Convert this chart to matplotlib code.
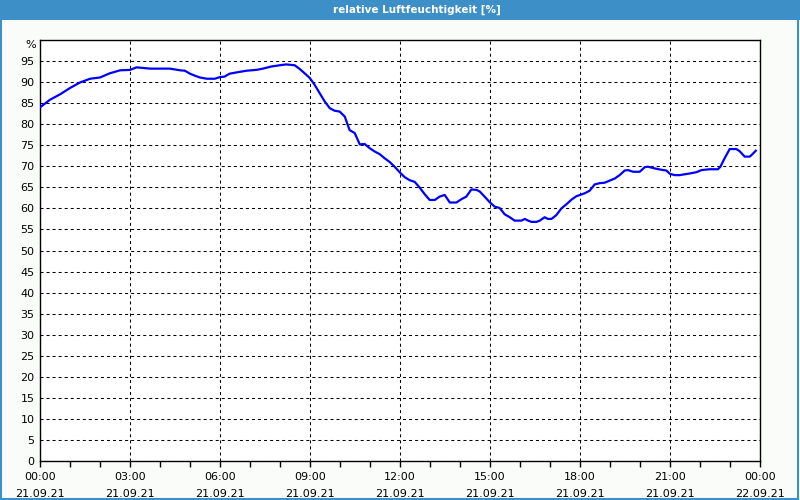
import pandas as pd
import matplotlib
matplotlib.use("Agg")
import matplotlib.pyplot as plt
import matplotlib.dates as mdates
from matplotlib.patches import Rectangle

# Stunden seit 21.09.21 00:00 und relative Luftfeuchtigkeit in %
hours = [0.00, 0.33, 0.67, 1.00, 1.33, 1.67, 2.00, 2.33, 2.67, 3.00, 3.22, 3.67,
         4.33, 4.67, 4.83, 5.00, 5.17, 5.33, 5.56, 5.83, 6.00, 6.15, 6.32, 6.55,
         6.88, 7.21, 7.43, 7.71, 7.99, 8.21, 8.49, 8.66, 8.82, 8.99, 9.15, 9.32,
         9.49, 9.66, 9.82, 9.99, 10.16, 10.32, 10.49, 10.66, 10.82, 10.99, 11.16,
         11.32, 11.49, 11.66, 11.82, 12.00, 12.16, 12.32, 12.49, 12.66, 12.82,
         12.99, 13.16, 13.32, 13.49, 13.66, 13.88, 14.05, 14.21, 14.38, 14.55,
         14.66, 14.82, 15.00, 15.16, 15.32, 15.49, 15.66, 15.82, 16.05, 16.16,
         16.27, 16.38, 16.55, 16.66, 16.82, 16.93, 17.05, 17.21, 17.38, 17.55,
         17.72, 17.88, 18.00, 18.16, 18.32, 18.49, 18.66, 18.82, 18.99, 19.16,
         19.32, 19.49, 19.60, 19.77, 19.99, 20.16, 20.27, 20.49, 20.77, 20.88,
         21.00, 21.16, 21.32, 21.49, 21.66, 21.88, 22.05, 22.32, 22.60, 22.68,
         22.82, 22.99, 23.21, 23.32, 23.49, 23.66, 23.75, 23.86]
humidity = [84.0, 85.8, 87.1, 88.6, 89.9, 90.8, 91.1, 92.1, 92.8, 92.9, 93.5, 93.2,
            93.2, 92.8, 92.7, 92.0, 91.5, 91.1, 90.8, 90.8, 91.2, 91.3, 92.0, 92.3,
            92.7, 92.9, 93.2, 93.7, 94.0, 94.2, 94.0, 93.1, 92.1, 91.0, 89.4, 87.4,
            85.4, 83.8, 83.2, 83.0, 81.8, 78.6, 77.9, 75.2, 75.3, 74.3, 73.5,
            72.9, 71.9, 71.0, 69.9, 68.5, 67.4, 66.7, 66.3, 64.9, 63.4,
            62.0, 62.0, 62.8, 63.2, 61.4, 61.4, 62.2, 62.8, 64.5, 64.4,
            64.0, 62.8, 61.4, 60.4, 60.1, 58.6, 57.9, 57.1, 57.1, 57.5,
            57.1, 56.8, 56.8, 57.1, 57.9, 57.5, 57.5, 58.4, 60.0, 61.0,
            62.1, 62.9, 63.2, 63.6, 64.2, 65.7, 66.0, 66.1, 66.6, 67.1,
            67.9, 69.0, 69.1, 68.7, 68.7, 69.8, 69.9, 69.5, 69.1, 69.0,
            68.2, 67.9, 67.9, 68.1, 68.3, 68.6, 69.1, 69.3, 69.3, 69.9,
            71.9, 74.1, 74.1, 73.6, 72.3, 72.3, 72.9, 73.7]

start = pd.Timestamp("2021-09-21 00:00")
times = start + pd.to_timedelta(hours, unit="h")
title = "relative Luftfeuchtigkeit [%]"
y_ticks = list(range(0, 100, 5))

fig = plt.figure(figsize=(8, 5), dpi=100, facecolor="#fafcfa")
frame_blue = "#3c8fc7"

# Titelleiste und Rahmen
fig.patches.append(Rectangle((0, 0.96), 1, 0.04, transform=fig.transFigure,
                             facecolor=frame_blue, edgecolor="none", zorder=0))
fig.patches.append(Rectangle((0.001, 0.002), 0.997, 0.996, transform=fig.transFigure,
                             facecolor="none", edgecolor=frame_blue, lw=1.5, zorder=0))
fig.text(0.521, 0.98, title, color="white", fontsize=7.5, fontweight="bold",
         ha="center", va="center")

ax = fig.add_axes([0.05, 0.078, 0.9, 0.842])
ax.set_facecolor("white")
ax.plot(times, humidity, color="#0000ff", lw=1.6, zorder=3)

ax.set_xlim(start, start + pd.Timedelta(hours=24))
ax.set_ylim(0, 100)
ax.set_yticks(y_ticks)
ax.tick_params(axis="y", length=0, pad=4, labelsize=8)
ax.text(-0.006, 1.0, "%", transform=ax.transAxes, ha="right", va="top", fontsize=8)

ax.xaxis.set_major_locator(mdates.HourLocator(byhour=range(0, 24, 3)))
ax.xaxis.set_minor_locator(mdates.HourLocator())
ax.xaxis.set_major_formatter(mdates.DateFormatter("%H:%M\n%d.%m.%y"))
ax.tick_params(axis="x", which="both", length=4, width=1, direction="out",
               labelsize=8, pad=4)
for lbl in ax.get_xticklabels():
    lbl.set_linespacing(1.8)

ax.grid(True, which="major", color="black", lw=0.75, linestyle=(0, (2.9, 2.9)))
ax.set_axisbelow(True)
for sp in ax.spines.values():
    sp.set_linewidth(1.0)
    sp.set_color("black")

fig.savefig("out.png", dpi=100, facecolor=fig.get_facecolor())
